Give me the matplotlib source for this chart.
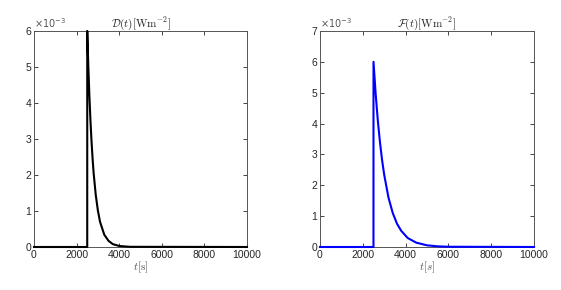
import matplotlib
matplotlib.use("Agg")
import matplotlib.pyplot as plt

plt.rcParams['mathtext.fontset'] = 'cm'
plt.rcParams['font.family'] = ['Liberation Sans', 'DejaVu Sans']

# D(t) in units of 1e-3 W m^-2
t_D = [0, 2499, 2500, 2550, 2600, 2650, 2700, 2750, 2800, 2900, 3000, 3100,
       3300, 3500, 3700, 4000, 4500, 10000]
D = [0, 0, 6.0, 5.02, 4.20, 3.52, 2.94, 2.46, 2.05, 1.44, 1.01, 0.70,
     0.34, 0.17, 0.08, 0.028, 0.005, 0]

# F(t) in units of 1e-3 W m^-2
t_F = [0, 2499, 2500, 2600, 2700, 2800, 2900, 3000, 3200, 3400, 3600, 3800,
       4100, 4500, 5000, 5500, 6000, 10000]
F = [0, 0, 6.0, 4.97, 4.11, 3.41, 2.82, 2.34, 1.60, 1.10, 0.75, 0.52,
     0.29, 0.14, 0.054, 0.021, 0.008, 0]

x_ticks = [0, 2000, 4000, 6000, 8000, 10000]

fig = plt.figure(figsize=(5.61, 2.90), dpi=100)
ax1 = fig.add_axes([0.0606, 0.1483, 0.3797, 0.745])
ax2 = fig.add_axes([0.5704, 0.1483, 0.3815, 0.745])

grey = '#262626'
for ax, t, y, col, ymax, title, xl in [
        (ax1, t_D, D, 'black', 6, r'$\mathcal{D}(t)[\mathrm{Wm}^{-2}]$', r'$t[\mathrm{s}]$'),
        (ax2, t_F, F, 'blue', 7, r'$\mathcal{F}(t)[\mathrm{Wm}^{-2}]$', r'$t[s]$')]:
    ax.plot(t, y, color=col, lw=1.5, clip_on=False, zorder=3)
    ax.set_xlim(0, 10000)
    ax.set_ylim(0, ymax)
    ax.set_xticks(x_ticks)
    ax.set_yticks(range(0, ymax + 1))
    ax.tick_params(direction='in', top=True, right=True, length=3, width=0.6,
                   labelsize=7.5, colors=grey, labelcolor=grey, pad=2)
    for s in ax.spines.values():
        s.set_color('#555555')
        s.set_linewidth(0.7)
    ax.set_title(title, fontsize=8, color=grey, pad=3)
    ax.set_xlabel(xl, fontsize=8, color='#555555', labelpad=0)
    ax.text(0.0, 1.005, r'$\times10^{-3}$', transform=ax.transAxes,
            fontsize=7, color='#555555', ha='left', va='bottom',
            math_fontfamily='dejavusans')

fig.savefig('out.png', dpi=100)
